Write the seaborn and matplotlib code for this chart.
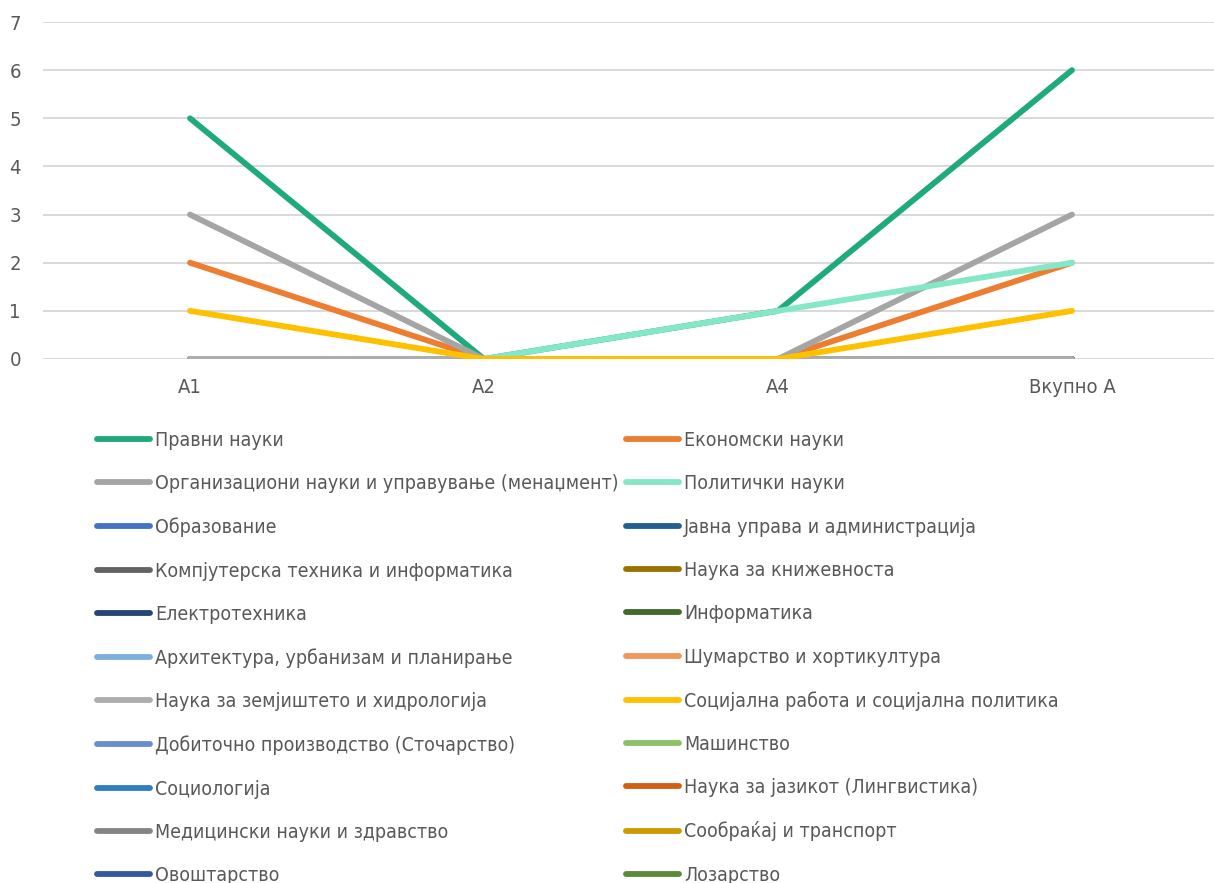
import matplotlib
matplotlib.use("Agg")
import matplotlib.pyplot as plt
import seaborn as sns
import pandas as pd

categories = ["A1", "A2", "A4", "Вкупно А"]

series_names = [
    "Правни науки",
    "Економски науки",
    "Организациони науки и управување (менаџмент)",
    "Политички науки",
    "Образование",
    "Јавна управа и администрација",
    "Компјутерска техника и информатика",
    "Наука за книжевноста",
    "Електротехника",
    "Информатика",
    "Архитектура, урбанизам и планирање",
    "Шумарство и хортикултура",
    "Наука за земјиштето и хидрологија",
    "Социјална работа и социјална политика",
    "Добиточно производство (Сточарство)",
    "Машинство",
    "Социологија",
    "Наука за јазикот (Лингвистика)",
    "Медицински науки и здравство",
    "Сообраќај и транспорт",
    "Овоштарство",
    "Лозарство",
]

pravni = [5, 0, 1, 6]
ekonomski = [2, 0, 0, 2]
organizacioni = [3, 0, 0, 3]
politicki = [0, 0, 1, 2]
socijalna = [1, 0, 0, 1]
zero = [0, 0, 0, 0]

series_values = {
    "Правни науки": pravni,
    "Економски науки": ekonomski,
    "Организациони науки и управување (менаџмент)": organizacioni,
    "Политички науки": politicki,
    "Социјална работа и социјална политика": socijalna,
}

series_colors = [
    "#1FAA7D", "#ED7D31", "#A5A5A5", "#84E8C8",
    "#4472C4", "#255E91", "#636363", "#997300",
    "#264478", "#43682B", "#7CAFDD", "#F1975A",
    "#ADADAD", "#FFC000", "#698ED0", "#8CC168",
    "#327DC2", "#D26012", "#848484", "#CC9A00",
    "#335AA1", "#5A8A3A",
]

# draw order: the zero series first, the non-zero ones above them
z_order = {name: 2 for name in series_names}
z_order["Правни науки"] = 4
z_order["Економски науки"] = 4
z_order["Организациони науки и управување (менаџмент)"] = 4
z_order["Политички науки"] = 5
z_order["Наука за земјиштето и хидрологија"] = 5.5
z_order["Социјална работа и социјална политика"] = 6

sns.set_theme(style="white")
plt.rcParams["font.family"] = ["DejaVu Sans"]
plt.rcParams["font.stretch"] = "condensed"

text_color = "#595959"
fig = plt.figure(figsize=(12.14, 8.83), dpi=100)
ax = fig.add_axes([43 / 1214, 1 - 359 / 883, 1176 / 1214, (359 - 22) / 883])

handles = []
for name, color in zip(series_names, series_colors):
    vals = series_values.get(name, zero)
    df = pd.DataFrame({"cat": categories, "val": vals})
    sns.lineplot(data=df, x="cat", y="val", ax=ax, color=color, linewidth=4.2,
                 sort=False, solid_capstyle="round", solid_joinstyle="round",
                 zorder=z_order[name], legend=False)
    handles.append(ax.lines[-1])

ax.set_xlim(-0.5, 3.5)
ax.set_ylim(0, 7)
ax.set_yticks(range(0, 8))
ax.grid(axis="y", color="#D9D9D9", linewidth=1.4, zorder=0)
ax.grid(axis="x", visible=False)
ax.set_axisbelow(True)
for s in ax.spines.values():
    s.set_visible(False)
ax.set_xlabel("")
ax.set_ylabel("")
ax.tick_params(axis="both", length=0, labelsize=14.5, labelcolor=text_color)
ax.tick_params(axis="x", pad=14)
ax.tick_params(axis="y", pad=16)

# two-column legend, rows filled left to right
order = list(range(0, len(series_names), 2)) + list(range(1, len(series_names), 2))
leg = fig.legend([handles[i] for i in order], [series_names[i] for i in order],
                 loc="upper left", bbox_to_anchor=(97 / 1214, 1 - 431 / 883),
                 ncol=2, frameon=False, fontsize=14, borderpad=0, borderaxespad=0,
                 handlelength=2.75, handletextpad=0.25, columnspacing=0.35,
                 labelspacing=1.25)
for t in leg.get_texts():
    t.set_color(text_color)
for h in leg.legend_handles:
    h.set_linewidth(4.2)
    h.set_solid_capstyle("round")

fig.savefig("out.png", dpi=100)
